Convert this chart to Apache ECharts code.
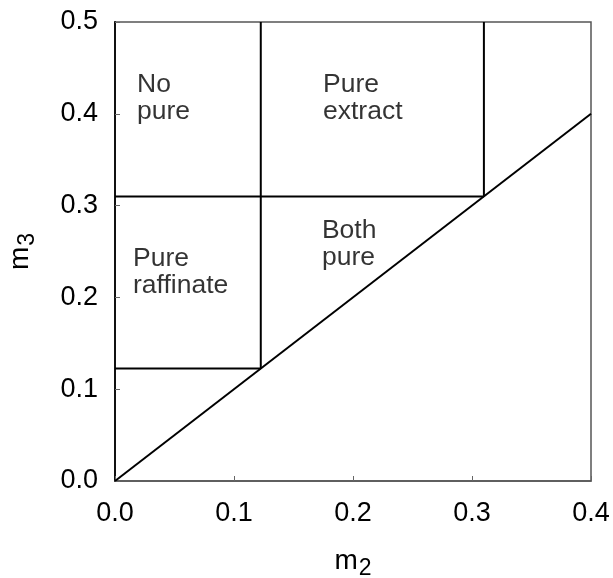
<!DOCTYPE html>
<html>
<head>
<meta charset="utf-8">
<script src="https://cdn.jsdelivr.net/npm/echarts@6/dist/echarts.min.js"></script>
<style>
  html, body { margin: 0; padding: 0; background: #fff; }
  #chart { width: 613px; height: 578px; }
</style>
</head>
<body>
<div id="chart"></div>
<script>
// Operating regions in the (m2, m3) plane
const m2Ticks = [0.0, 0.1, 0.2, 0.3, 0.4];
const m3Ticks = [0.0, 0.1, 0.2, 0.3, 0.4, 0.5];

// Boundary segments, each as [m2, m3] end points
const diagonal = [[0, 0], [0.4, 0.4]];
const raffinateFloor = [[0, 0.1225], [0.1225, 0.1225]];
const raffinateWall = [[0.1225, 0.1225], [0.1225, 0.5]];
const extractFloor = [[0, 0.31], [0.31, 0.31]];
const extractWall = [[0.31, 0.31], [0.31, 0.5]];

// Region names and their anchor points
const regionNames = ['No\npure', 'Pure\nextract', 'Pure\nraffinate', 'Both\npure'];
const regionAnchors = [[0.0185, 0.417], [0.1748, 0.417], [0.0151, 0.228], [0.1739, 0.258]];

const font = 'Liberation Sans, Arial, Helvetica, sans-serif';
const ink = '#000';

function segment(data) {
  return {
    type: 'line',
    data: data,
    symbol: 'none',
    silent: true,
    lineStyle: { color: ink, width: 2 },
    z: 3
  };
}

const chart = echarts.init(document.getElementById('chart'), null, { renderer: 'canvas' });

const nameRich = {
  a: { fontSize: 28, fontFamily: font, color: ink },
  b: { fontSize: 23, fontFamily: font, color: ink, padding: [14, 0, 0, 1] }
};

chart.setOption({
  animation: false,
  backgroundColor: '#fff',
  grid: {
    left: 115, top: 22, right: 22, bottom: 97,
    outerBoundsMode: 'none',
    containLabel: false,
    show: true, borderColor: '#555', borderWidth: 1.5
  },
  xAxis: {
    type: 'value',
    min: 0, max: 0.4, interval: 0.1,
    name: '{a|m}{b|2}',
    nameLocation: 'middle',
    nameGap: 62,
    nameTextStyle: { rich: nameRich },
    axisLine: { show: true, onZero: false, lineStyle: { color: '#555', width: 1.5 } },
    axisTick: { show: true, inside: true, length: 5, lineStyle: { color: '#666', width: 1 } },
    axisLabel: {
      margin: 19, fontSize: 27, fontFamily: font, color: ink,
      formatter: v => v.toFixed(1)
    },
    splitLine: { show: false }
  },
  yAxis: {
    type: 'value',
    min: 0, max: 0.5, interval: 0.1,
    name: '{a|m}{b|3}',
    nameLocation: 'middle',
    nameGap: 76,
    nameRotate: 90,
    nameTextStyle: { rich: nameRich },
    axisLine: { show: true, onZero: false, lineStyle: { color: '#111', width: 2 } },
    axisTick: { show: true, inside: true, length: 5, lineStyle: { color: '#666', width: 1 } },
    axisLabel: {
      margin: 17, fontSize: 27, fontFamily: font, color: ink,
      formatter: v => v.toFixed(1)
    },
    splitLine: { show: false }
  },
  series: [
    segment(diagonal),
    segment(raffinateFloor),
    segment(raffinateWall),
    segment(extractFloor),
    segment(extractWall),
    {
      type: 'scatter',
      silent: true,
      symbolSize: 0,
      data: regionAnchors.map((p, i) => ({ value: p, name: regionNames[i] })),
      label: {
        show: true,
        position: 'inside',
        formatter: p => p.name,
        align: 'left',
        verticalAlign: 'middle',
        fontSize: 26.5,
        lineHeight: 27,
        fontFamily: font,
        color: ink
      },
      z: 4
    }
  ]
});
</script>
</body>
</html>
